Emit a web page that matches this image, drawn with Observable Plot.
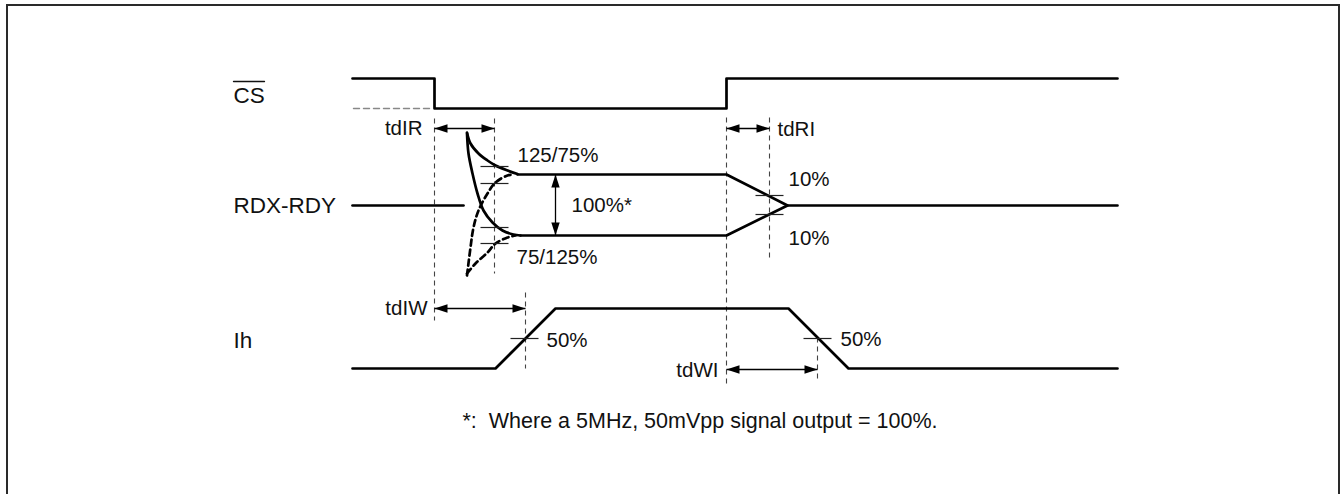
<!DOCTYPE html>
<html>
<head>
<meta charset="utf-8">
<script src="https://cdn.jsdelivr.net/npm/d3@7"></script>
<script src="https://cdn.jsdelivr.net/npm/@observablehq/plot@0.6"></script>
<style>
  html, body { margin: 0; padding: 0; background: #fff; overflow: hidden; }
</style>
</head>
<body>
<div id="chart"></div>
<script>
// ---- Diagram data (time units along x, signal level units along y) ----
const frameBox = [{t1: 7, t2: 1339, v1: 5, v2: 520}];

// CS (chip select) waveform
const csWave = [[352,78],[434,78],[434,108],[726,108],[726,78],[1117,78]];
const csRefLow = [[353,108],[431,108]];

// RDX-RDY waveform
const rdxBaseLeft = [[352,205],[463,205]];
const rdxUpperCurve = [[466.5,132],[470,143],[478,153],[487,160],[495,165],[507,170],[517,173.5]];
const rdxUpperLine = [[517,174],[726,174],[787,205],[1117,205]];
const rdxLowerCurve = [[466.5,133],[468,153],[472,173],[477,193],[483,210],[492,222],[502,230],[513,234],[520,235]];
const rdxLowerLine = [[520,235],[726,235],[787,205]];
const rdxDashUpper = [[466.5,275],[470,247],[473,227],[478,210],[487,193],[495,182],[507,175],[513,174]];
const rdxDashLower = [[466.5,273],[475,263],[487,252],[495,243],[507,237],[515,235]];

// Ih waveform
const ihWave = [[352,368],[495,368],[555,308],[788,308],[848,368],[1117,368]];

// Threshold tick marks [t1, t2, level]
const thresholdTicks = [
  [480,508,166],[480,508,183],[480,508,227],[480,508,243],
  [755,783,195],[755,783,214],
  [510,538,338],[803,831,338]
];

// Dashed timing reference lines [t, levelTop, levelBottom]
const timingRefs = [
  [434,118,320],[494,118,273],[726,117,383],[769,117,257],[525,292,368],[817,337,382]
];

// Double-headed dimension arrows [x1, y1, x2, y2]
const dimArrows = [
  [434,128,494,128],   // tdIR
  [726,128,769,128],   // tdRI
  [555,174,555,235],   // 100%
  [434,308,525,308],   // tdIW
  [726,369,817,369]    // tdWI
];

// Signal names
const signalNames = ["CS", "RDX-RDY", "Ih"];
const signalNamePos = [[233,95],[233,205],[233,340]];
const csOverline = [[233,81],[264,81]];

// Annotations [text, t, level, anchor]
const annotations = [
  ["tdIR", 422, 128, "end"],
  ["tdRI", 777, 129, "start"],
  ["125/75%", 517, 155, "start"],
  ["100%*", 571, 205, "start"],
  ["75/125%", 516, 257, "start"],
  ["10%", 788, 179, "start"],
  ["10%", 788, 238, "start"],
  ["tdIW", 427, 308, "end"],
  ["50%", 546, 340, "start"],
  ["50%", 840, 339, "start"],
  ["tdWI", 718, 370, "end"]
];
const captionText = "*:  Where a 5MHz, 50mVpp signal output = 100%.";
const captionPos = [462, 421];

// ---- Build mark tables ----
const pts = arr => arr.map(([t, v]) => ({t, v}));
const tickRows = thresholdTicks.map(([t1, t2, v]) => ({t1, t2, v}));
const refRows = timingRefs.map(([t, v1, v2]) => ({t, v1, v2}));
const arrowRows = dimArrows.map(([x1, y1, x2, y2]) => ({x1, y1, x2, y2}));
const headRows = arrowRows.flatMap(d => {
  const horiz = d.y1 === d.y2;
  return horiz
    ? [{t: d.x1, v: d.y1, rot: 180}, {t: d.x2, v: d.y2, rot: 0}]
    : [{t: d.x1, v: d.y1, rot: -90}, {t: d.x2, v: d.y2, rot: 90}];
});
const nameRows = signalNames.map((name, i) => ({name, t: signalNamePos[i][0], v: signalNamePos[i][1]}));
const annRows = annotations.map(([text, t, v, anchor]) => ({text, t, v, anchor}));

const arrowHead = {
  draw(ctx) {
    ctx.moveTo(0, 0);
    ctx.lineTo(-13, -4.2);
    ctx.lineTo(-13, 4.2);
    ctx.closePath();
  }
};

const FONT = "'Liberation Sans', Arial, Helvetica, sans-serif";
const WAVE_W = 2.7;

const chart = Plot.plot({
  width: 1344,
  height: 494,
  margin: 0,
  x: {domain: [0, 1344], range: [0, 1344], axis: null},
  y: {domain: [0, 494], range: [0, 494], axis: null},
  style: {fontFamily: FONT, background: "#fff", color: "#111"},
  marks: [
    // outer frame
    Plot.rect(frameBox, {x1: "t1", x2: "t2", y1: "v1", y2: "v2", fill: "none", stroke: "#2a2a2a", strokeWidth: 2}),
    // dashed timing references
    Plot.link(refRows, {x1: "t", x2: "t", y1: "v1", y2: "v2", stroke: "#444", strokeWidth: 1.1, strokeDasharray: "5,4"}),
    // CS
    Plot.line(pts(csRefLow), {x: "t", y: "v", stroke: "#888", strokeWidth: 1.4, strokeDasharray: "6,4"}),
    Plot.line(pts(csWave), {x: "t", y: "v", stroke: "#000", strokeWidth: WAVE_W}),
    // RDX-RDY
    Plot.line(pts(rdxBaseLeft), {x: "t", y: "v", stroke: "#000", strokeWidth: WAVE_W}),
    Plot.line(pts(rdxUpperCurve), {x: "t", y: "v", stroke: "#000", strokeWidth: WAVE_W, curve: "catmull-rom"}),
    Plot.line(pts(rdxUpperLine), {x: "t", y: "v", stroke: "#000", strokeWidth: WAVE_W}),
    Plot.line(pts(rdxLowerCurve), {x: "t", y: "v", stroke: "#000", strokeWidth: WAVE_W, curve: "catmull-rom"}),
    Plot.line(pts(rdxLowerLine), {x: "t", y: "v", stroke: "#000", strokeWidth: WAVE_W}),
    Plot.line(pts(rdxDashUpper), {x: "t", y: "v", stroke: "#000", strokeWidth: WAVE_W, strokeDasharray: "6,4", curve: "catmull-rom"}),
    Plot.line(pts(rdxDashLower), {x: "t", y: "v", stroke: "#000", strokeWidth: WAVE_W, strokeDasharray: "6,4", curve: "catmull-rom"}),
    // Ih
    Plot.line(pts(ihWave), {x: "t", y: "v", stroke: "#000", strokeWidth: WAVE_W}),
    // threshold ticks
    Plot.link(tickRows, {x1: "t1", x2: "t2", y1: "v", y2: "v", stroke: "#222", strokeWidth: 1.2}),
    // dimension arrows
    Plot.link(arrowRows, {x1: "x1", y1: "y1", x2: "x2", y2: "y2", stroke: "#000", strokeWidth: 1.3}),
    Plot.dot(headRows, {x: "t", y: "v", rotate: "rot", symbol: arrowHead, fill: "#000", stroke: "none", r: 5}),
    // signal names
    Plot.text(nameRows, {x: "t", y: "v", text: "name", textAnchor: "start", lineAnchor: "middle", fontSize: 22.5, fill: "#111"}),
    Plot.line(pts(csOverline), {x: "t", y: "v", stroke: "#111", strokeWidth: 1.3}),
    // annotations
    Plot.text(annRows.filter(d => d.anchor === "start"), {x: "t", y: "v", text: "text", textAnchor: "start", lineAnchor: "middle", fontSize: 20.5, fill: "#111"}),
    Plot.text(annRows.filter(d => d.anchor === "end"), {x: "t", y: "v", text: "text", textAnchor: "end", lineAnchor: "middle", fontSize: 20.5, fill: "#111"}),
    // caption
    Plot.text([captionText], {x: () => captionPos[0], y: () => captionPos[1], text: d => d, textAnchor: "start", lineAnchor: "middle", fontSize: 21.5, fill: "#111"})
  ]
});
document.getElementById("chart").appendChild(chart);
</script>
</body>
</html>
